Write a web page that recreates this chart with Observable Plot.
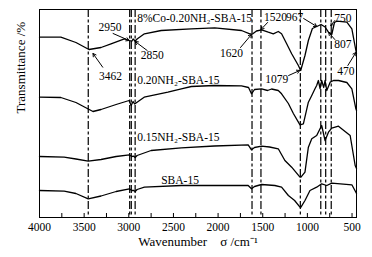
<!DOCTYPE html>
<html><head><meta charset="utf-8">
<script src="https://cdn.jsdelivr.net/npm/d3@7"></script>
<script src="https://cdn.jsdelivr.net/npm/@observablehq/plot@0.6"></script>
<style>body{margin:0;background:#fff} svg{display:block}</style>
</head><body><div id="chart"></div>
<script>
// Spectra: [wavenumber (cm-1), transmittance (a.u., offset)]
const coSample = [[4000,180.3],[3761,180.3],[3592,175],[3446,168],[3311,170],[3199,173.7],[3049,178.7],[2993,177],[2966,176.3],[2952,178.5],[2929,176.5],[2907,178.5],[2825,183.7],[2637,187],[2300,188.7],[2038,189.7],[1738,187],[1645,183.7],[1615,183.5],[1570,186.5],[1513,187.7],[1438,185.3],[1382,183.7],[1326,186],[1289,183.7],[1232,173.7],[1176,163.7],[1101,152],[1075,147],[1027,162],[989,177],[944,189],[895,191],[847,193],[802,190.5],[764,185.3],[727,183],[697,195],[671,196.3],[558,195.3],[502,188.7],[457,167],[450,163.7]];
const nh20 = [[4000,120.3],[3761,120],[3592,115],[3401,106],[3311,108],[3142,113],[2997,117],[2974,112],[2952,116],[2935,113.5],[2828,120.3],[2562,125.3],[2412,128.7],[2300,131],[2042,132],[1738,131.7],[1659,130],[1626,123.7],[1592,128],[1513,128.7],[1446,127],[1401,128.5],[1326,127],[1289,123.7],[1213,114],[1157,104],[1083,92.7],[1045,93.7],[989,115.3],[951,122],[915,128.7],[896,132],[877,137],[858,129],[840,137],[817,130],[802,137],[783,127],[745,135.3],[708,137],[652,137],[558,135],[502,128.7],[457,108.7],[450,107]];
const nh15 = [[4000,61],[3724,60.3],[3592,58.5],[3454,56.3],[3311,58],[3142,61],[2993,62.7],[2968,61],[2944,61.3],[2929,60],[2907,62],[2750,67],[2412,69.7],[2042,71.5],[1663,72.7],[1626,67.7],[1592,70],[1513,71.3],[1423,70.5],[1326,68.7],[1252,57],[1176,50.3],[1083,40.3],[1072,40.3],[1027,45.3],[989,70.3],[951,78.7],[896,82],[840,92],[802,77],[764,85.3],[727,89.3],[652,91.3],[521,82],[465,52],[450,49]];
const sba15 = [[4000,27],[3724,26.3],[3592,24],[3454,18.7],[3311,21.5],[3142,26],[2993,28.7],[2968,27],[2944,27],[2929,26],[2907,28],[2825,30.3],[2412,32],[1663,32],[1626,28.7],[1592,31],[1513,33],[1364,32],[1289,30.3],[1213,22],[1143,17],[1083,10.3],[1072,10.3],[1027,17],[971,27],[896,30.3],[840,33.7],[783,32],[727,34.3],[502,32.7],[457,25.3],[450,24]];

const markerLines = [3454, 2990, 2972, 2929, 1620, 1520, 1079, 850, 795, 733];

const seriesLabels = [
  {text: "8%Co-0.20NH₂-SBA-15", w: 2906, t: 199},
  {text: "0.20NH₂-SBA-15", w: 2906, t: 137},
  {text: "0.15NH₂-SBA-15", w: 2906, t: 80.3},
  {text: "SBA-15", w: 2637, t: 37}
];

// peak annotations: text position and arrow (from -> to)
const peaks = [
  {text: "3462", w: 3204, t: 141, w1: 3292, t1: 150.3, w2: 3401, t2: 164},
  {text: "2950", w: 3210, t: 190, w1: 3176, t1: 184, w2: 2997, t2: 177},
  {text: "2850", w: 2738, t: 162, w1: 2794, t1: 167, w2: 2929, t2: 176},
  {text: "1620", w: 1850, t: 164, w1: 1749, t1: 170, w2: 1626, t2: 183},
  {text: "1520", w: 1356, t: 200, w1: 1446, t1: 195, w2: 1519, t2: 188},
  {text: "967", w: 1143, t: 200, w1: 1042, t1: 199, w2: 895, t2: 191},
  {text: "1079", w: 1344, t: 138, w1: 1210, t1: 142, w2: 1086, t2: 147},
  {text: "750", w: 603, t: 199.3, w1: 693, t1: 197, w2: 738, t2: 192},
  {text: "807", w: 603, t: 173, w1: 693, t1: 178, w2: 761, t2: 185},
  {text: "470", w: 569, t: 146, w1: 547, t1: 152, w2: 457, t2: 165}
];

const xTickLabels = [4000, 3500, 3000, 2500, 2000, 1500, 1000, 500];
const xMinorTicks = [3750, 3500, 3250, 3000, 2750, 2500, 2250, 2000, 1750, 1500, 1250, 1000, 750, 500];

const curves = [coSample, nh20, nh15, sba15];
const font = "Liberation Serif, Times New Roman, serif";

const plot = Plot.plot({
  width: 372,
  height: 257,
  marginTop: 9,
  marginBottom: 40,
  marginLeft: 39,
  marginRight: 16,
  style: {fontFamily: font, fontSize: "11.5px", color: "#000", background: "#fff"},
  x: {domain: [4000, 450]},
  y: {domain: [0, 208], axis: null},
  marks: [
    Plot.ruleX(markerLines, {stroke: "#000", strokeWidth: 1.2, strokeDasharray: "8,2.5,3,2.5"}),
    ...curves.map(c => Plot.line(c, {x: d => d[0], y: d => d[1], stroke: "#000", strokeWidth: 1.3})),
    Plot.text(seriesLabels, {x: "w", y: "t", text: "text", textAnchor: "start", fontSize: 11.5, fill: "#000"}),
    Plot.arrow(peaks, {x1: "w1", y1: "t1", x2: "w2", y2: "t2", stroke: "#000", strokeWidth: 1, headLength: 5}),
    Plot.text(peaks, {x: "w", y: "t", text: "text", fontSize: 11.5, fill: "#000"}),
    Plot.axisX({ticks: xMinorTicks, tickSize: -4, tickFormat: () => "", label: null}),
    Plot.axisX({ticks: xTickLabels, tickSize: 0, tickPadding: 5, tickFormat: d => String(d), fontSize: 11.5, label: null}),
    Plot.frame({stroke: "#000", strokeWidth: 1}),
    Plot.text(["Wavenumber    σ /cm⁻¹"], {frameAnchor: "bottom", dy: 28, fontSize: 13, fill: "#000", text: d => d}),
    Plot.text(["Transmittance /%"], {frameAnchor: "left", dx: -19, rotate: -90, fontSize: 13, fill: "#000", text: d => d})
  ]
});
document.getElementById("chart").appendChild(plot);
</script>
</body></html>
